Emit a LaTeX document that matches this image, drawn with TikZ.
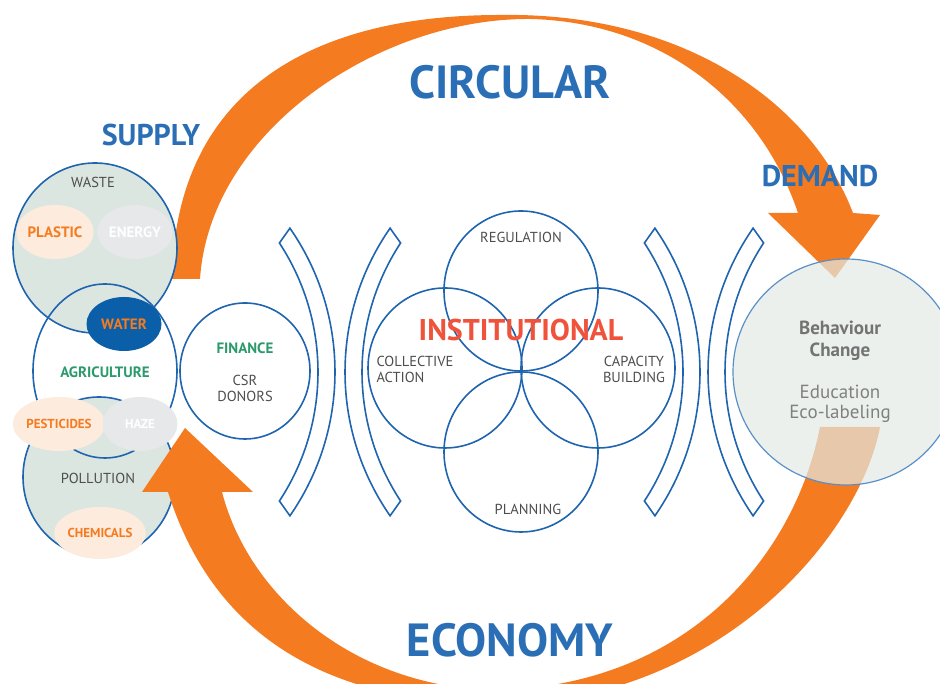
\documentclass[tikz,border=0pt]{standalone}
\usepackage{fontspec}
\setmainfont{PT Sans}
\usetikzlibrary{shapes.geometric}
\definecolor{arroworange}{HTML}{F47B20}
\definecolor{ringblue}{HTML}{1F64AE}
\definecolor{titleblue}{HTML}{2A6EB5}
\definecolor{instred}{HTML}{F0533C}
\definecolor{leafgreen}{HTML}{2B9A6B}
\definecolor{textgray}{HTML}{4D4D4D}
\definecolor{peach}{HTML}{FDEBDD}
\definecolor{mist}{HTML}{E6E8E9}
\definecolor{sage}{HTML}{DCE6E1}
\definecolor{waterblue}{HTML}{0B5FA8}
\definecolor{behaveblue}{HTML}{5B8FC8}
\definecolor{behavefill}{HTML}{E3EAE6}
\begin{document}
\begin{tikzpicture}[x=1pt,y=1pt,
    ring/.style={draw=ringblue, line width=1.6pt},
    blob/.style={ellipse, minimum width=75pt, minimum height=54pt, inner sep=0pt},
    lbl/.style={text=textgray, font=\fontsize{14.5}{16}\selectfont, align=center},
    tag/.style={font=\fontsize{15}{16}\selectfont\bfseries},
    smalltag/.style={font=\fontsize{13}{14}\selectfont\bfseries},
    ttl/.style={text=titleblue, font=\fontsize{46.5}{48}\selectfont\bfseries},
    subttl/.style={text=titleblue, font=\fontsize{30}{32}\selectfont\bfseries}]
    \clip (0,0) rectangle (940,684);

    % Upper arrow: supply -> demand
    \fill[arroworange] (172,405) .. controls (175,584) and (300,669) .. (500,669)
        .. controls (680,672) and (810,584) .. (853,471)
        -- (880,469) -- (835,406) -- (768,471) -- (798,471)
        .. controls (760,584) and (660,662) .. (530,665)
        .. controls (380,666) and (210,554) .. (200,405) -- cycle;

    % Supply cluster
    \node[ring, fill=sage, ellipse, minimum width=164pt, minimum height=170pt] (waste) at (95,436) {};
    \node[ring, fill=sage, ellipse, minimum width=152pt, minimum height=160pt] (pollution) at (99,207) {};
    \node[ring, ellipse, minimum width=144pt, minimum height=174pt] (agriculture) at (105,313) {};
    \node[blob, fill=peach, text=arroworange, tag] (plastic) at (55,452) {PLASTIC};
    \node[blob, fill=mist, text=white, tag] (energy) at (135,452) {ENERGY};
    \node[blob, fill=waterblue, text=arroworange, tag] (water) at (124,360) {WATER};
    \node[blob, fill=peach, text=arroworange, smalltag] (pesticides) at (59,260) {PESTICIDES};
    \node[blob, fill=mist, text=white, smalltag] (haze) at (140,260) {HAZE};
    \node[blob, fill=peach, text=arroworange, smalltag, minimum width=88pt, minimum height=52pt] (chemicals) at (100,151) {CHEMICALS};
    \node[lbl] (wastelbl) at (93,502) {WASTE};
    \node[tag, text=leafgreen] (agrilbl) at (105,312) {AGRICULTURE};
    \node[lbl] (pollutionlbl) at (98,206) {POLLUTION};

    % Finance
    \node[ring, ellipse, minimum width=130pt, minimum height=136pt] (finance) at (245,313) {};
    \node[tag, text=leafgreen] (financelbl) at (245,336) {FINANCE};
    \node[lbl] (donors) at (245,296) {CSR\\DONORS};

    % Brackets
    \foreach \cx in {83,448}
        \draw[ring] ([shift={(34.8:252)}]\cx,312) arc[start angle=34.8, end angle=-34.8, radius=252]
            -- ([shift={(-33.3:235)}]\cx,312) arc[start angle=-33.3, end angle=33.3, radius=235] -- cycle;
    \foreach \cx in {597,960}
        \draw[ring] ([shift={(145.2:252)}]\cx,312) arc[start angle=145.2, end angle=214.8, radius=252]
            -- ([shift={(213.3:235)}]\cx,312) arc[start angle=213.3, end angle=146.7, radius=235] -- cycle;

    % Institutional flower
    \foreach \name/\px/\py in {regulation/521/393, collective/445/316, capacity/598/316, planning/521/232}
        \node[ring, ellipse, minimum width=154pt, minimum height=160pt] (\name) at (\px,\py) {};
    \node[lbl] (regulationlbl) at (521,447) {REGULATION};
    \node[lbl, align=left, anchor=west] (collectivelbl) at (373,315) {COLLECTIVE\\ACTION};
    \node[lbl] (capacitylbl) at (634,315) {CAPACITY\\BUILDING};
    \node[lbl] (planninglbl) at (528,175) {PLANNING};
    \node[text=instred, font=\fontsize{30}{32}\selectfont\bfseries] (institutional) at (521,354) {INSTITUTIONAL};

    % Lower arrow: demand -> supply
    \fill[arroworange] (142,192) -- (168,192)
        .. controls (215,44) and (330,-16) .. (490,-21)
        .. controls (720,-21) and (860,150) .. (880,257)
        -- (820,257)
        .. controls (795,130) and (690,0) .. (500,-6)
        .. controls (360,-6) and (250,84) .. (222,192)
        -- (253,192) -- (185,256) -- cycle;

    % Demand
    \node[circle, minimum size=226pt, draw=behaveblue, line width=1.2pt, fill=behavefill, fill opacity=0.7] (behaviour) at (846,312) {};
    \node[text=gray!90!black, font=\fontsize{19}{22}\selectfont\bfseries, align=center] (behaviourlbl) at (840,343) {Behaviour\\Change};
    \node[text=gray, font=\fontsize{19}{20}\selectfont, align=center] (education) at (840,280) {Education\\Eco-labeling};

    % Titles
    \node[ttl] (circular) at (510,602) {CIRCULAR};
    \node[ttl] (economy) at (510,44) {ECONOMY};
    \node[subttl] (supply) at (151,549) {SUPPLY};
    \node[subttl] (demand) at (820,508) {DEMAND};
\end{tikzpicture}
\end{document}
